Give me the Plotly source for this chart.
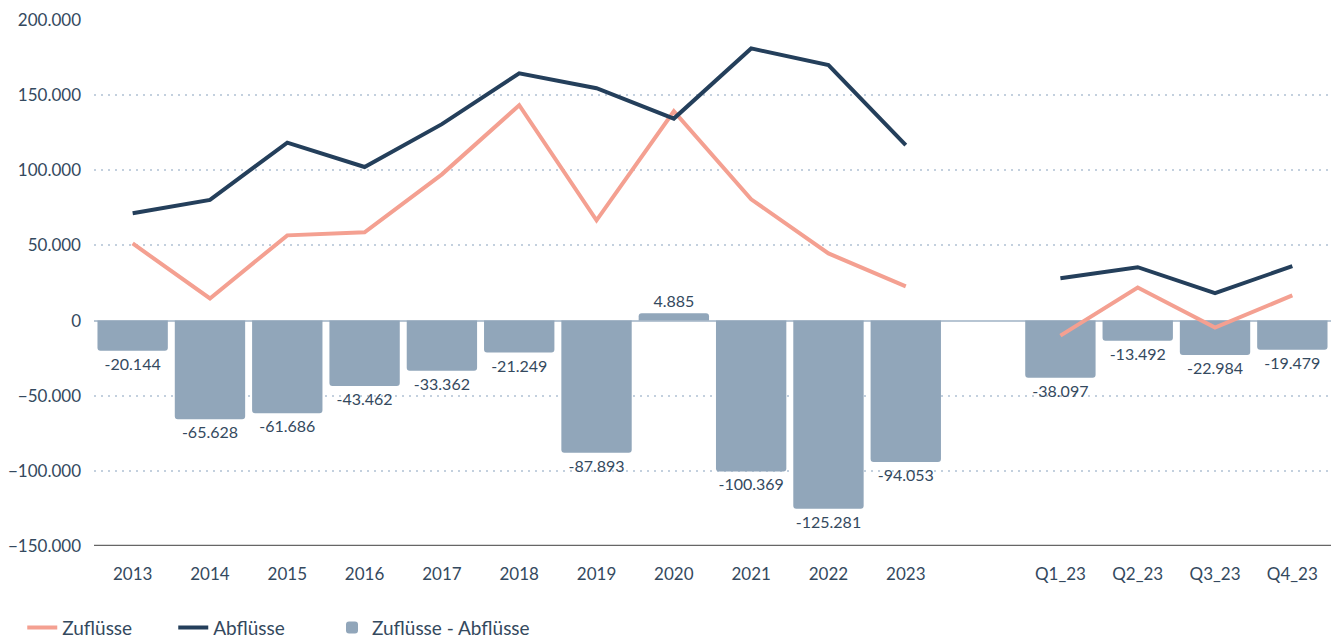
import plotly.graph_objects as go

categories = ["2013", "2014", "2015", "2016", "2017", "2018", "2019", "2020", "2021", "2022", "2023", " ",
              "Q1_23", "Q2_23", "Q3_23", "Q4_23"]
zufluesse = [51300, 14700, 56700, 58700, 97300, 143300, 66700, 139300, 80700, 44700, 22700, None,
             -10000, 22000, -4700, 16700]
abfluesse = [71400, 80300, 118400, 102200, 130700, 164500, 154600, 134400, 181100, 170000, 116800, None,
             28100, 35500, 18300, 36200]
netto = [-20144, -65628, -61686, -43462, -33362, -21249, -87893, 4885, -100369, -125281, -94053, None,
         -38097, -13492, -22984, -19479]
y_ticks = [-150000, -100000, -50000, 0, 50000, 100000, 150000, 200000]

FONT = "Source Sans Pro, Lato, Noto Sans, sans-serif"
TXT = "#34495e"

fig = go.Figure()
fig.add_trace(go.Bar(
    x=categories, y=netto, name="Zuflüsse - Abflüsse",
    marker=dict(color="#91a6ba", line=dict(width=0)),
    texttemplate="%{y:,.0f}", textposition="outside",
    textfont=dict(size=16, color=TXT, family=FONT),
    cliponaxis=False, legend="legend2",
))
fig.add_trace(go.Scatter(
    x=categories, y=zufluesse, name="Zuflüsse", mode="lines",
    line=dict(color="#f4a091", width=4), legendrank=1, connectgaps=False,
))
fig.add_trace(go.Scatter(
    x=categories, y=abfluesse, name="Abflüsse", mode="lines",
    line=dict(color="#243f5b", width=4), legendrank=2, connectgaps=False,
))

fig.update_layout(
    width=1331, height=641,
    margin=dict(l=94, r=0, t=20, b=95, autoexpand=False),
    paper_bgcolor="white", plot_bgcolor="white",
    separators=",.",
    bargap=0.09,
    barcornerradius=3,
    font=dict(family=FONT, color=TXT, size=15),
    showlegend=True,
    legend=dict(orientation="h", x=-0.058, xanchor="left", y=-0.155, yanchor="middle",
                font=dict(size=19, color=TXT, family=FONT), itemwidth=30,
                entrywidth=106, entrywidthmode="pixels",
                traceorder="normal", tracegroupgap=0),
    legend2=dict(orientation="h", x=0.1924, xanchor="left", y=-0.155, yanchor="middle",
                 font=dict(size=19, color=TXT, family=FONT), itemwidth=30),
    xaxis=dict(type="category", categoryorder="array", categoryarray=categories,
               showgrid=False, zeroline=False, showline=False, ticks="",
               ticklabelstandoff=16,
               tickfont=dict(size=17, color=TXT, family=FONT)),
    yaxis=dict(range=[-150000, 200000], tickvals=y_ticks, tickformat=",.0f",
               showgrid=True, gridcolor="#c3d0de", griddash="2px,5px", gridwidth=2,
               zeroline=True, zerolinecolor="#b7c5d3", zerolinewidth=2,
               showline=False, ticks="", ticklabelstandoff=12,
               tickfont=dict(size=17, color=TXT, family=FONT)),
)
fig.add_shape(type="line", xref="paper", yref="y", x0=0, x1=1, y0=-150000, y1=-150000,
              line=dict(color="#666666", width=2.5), layer="above")

fig.write_html("out.html")
